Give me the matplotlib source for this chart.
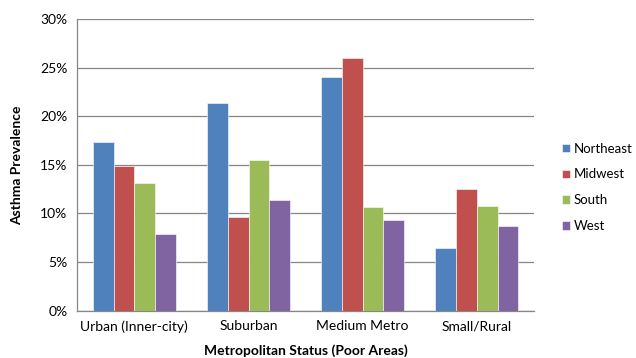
import matplotlib
matplotlib.use("Agg")
import matplotlib.pyplot as plt
import numpy as np
from matplotlib.ticker import PercentFormatter

plt.rcParams['font.family'] = ['Lato', 'DejaVu Sans']

categories = ["Urban (Inner-city)", "Suburban", "Medium Metro", "Small/Rural"]
regions = ["Northeast", "Midwest", "South", "West"]
northeast = [17.3, 21.4, 24.0, 6.5]
midwest = [14.85, 9.6, 26.0, 12.5]
south = [13.1, 15.55, 10.7, 10.8]
west = [7.9, 11.35, 9.35, 8.75]
colors = ["#4f81bd", "#c0504d", "#9bbb59", "#8064a2"]

series = [northeast, midwest, south, west]

fig = plt.figure(figsize=(6.36, 3.58), dpi=100)
ax = fig.add_axes([0.1215, 0.132, 0.718, 0.815])

x = np.arange(len(categories))
w = 1 / 5.5
for i, (vals, name) in enumerate(zip(series, regions)):
    ax.bar(x + (i - 1.5) * w, vals, w, color=colors[i], label=name,
           edgecolor="white", linewidth=0.4, zorder=3)

ax.set_xlim(-0.5, 3.5)
ax.set_ylim(0, 30)
ax.set_yticks(np.arange(0, 31, 5))
ax.yaxis.set_major_formatter(PercentFormatter(decimals=0))
ax.set_xticks(x)
ax.set_xticklabels(categories)
ax.tick_params(axis="both", length=0, labelsize=10, pad=7)
ax.grid(axis="y", color="#868686", linewidth=0.9, zorder=0)
for s in ["top", "right"]:
    ax.spines[s].set_visible(False)
for s in ["left", "bottom"]:
    ax.spines[s].set_color("#868686")
    ax.spines[s].set_linewidth(0.9)

ax.set_xlabel("Metropolitan Status (Poor Areas)", fontweight="bold", fontsize=10, labelpad=8)
ax.set_ylabel("Asthma Prevalence", fontweight="bold", fontsize=10, labelpad=12)

ax.legend(loc="center left", bbox_to_anchor=(1.035, 0.423), frameon=False,
          fontsize=9.5, handlelength=0.6, handleheight=0.6, handletextpad=0.3,
          labelspacing=1.05)

fig.savefig("out.png", dpi=100)
